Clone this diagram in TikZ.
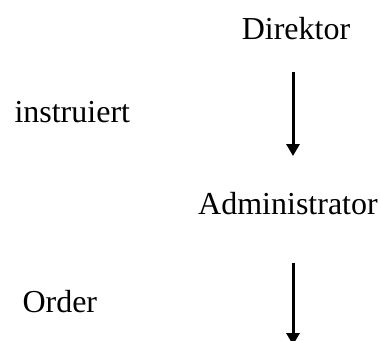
\documentclass[tikz,border=0pt]{standalone}
\usepackage{fontspec}
\setmainfont{Liberation Serif}
\usetikzlibrary{arrows.meta}

\begin{document}
\begin{tikzpicture}[x=1pt,y=-1pt,>={Triangle[width=13pt,length=12pt]},
                    line width=3pt]
  \tikzstyle{every node}=[font=\fontsize{32}{38}\selectfont,inner sep=0pt]
  \useasboundingbox (0,0) rectangle (380,340);

  \node[anchor=base]      (D) at (296,39)  {Direktor};
  \node[anchor=base]      (A) at (288,214) {Administrator};
  \node[anchor=base west] (I) at (13,122)  {instruiert};
  \node[anchor=base west] (O) at (21,312)  {Order};

  \coordinate (d1) at (293,72);
  \coordinate (a1) at (293,156);
  \coordinate (d2) at (293,263);
  \coordinate (a2) at (293,345);

  \draw[->] (d1) -- (a1);
  \draw[->] (d2) -- (a2);
\end{tikzpicture}
\end{document}
